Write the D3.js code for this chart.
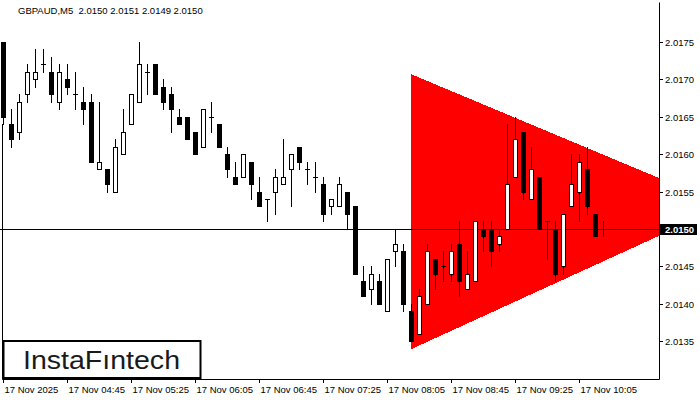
<!DOCTYPE html>
<html>
<head>
<meta charset="utf-8">
<script src="https://cdn.jsdelivr.net/npm/d3@7"></script>
<style>
  html, body { margin: 0; padding: 0; background: #fff; }
  svg { display: block; }
  text { font-family: "Liberation Sans", Arial, sans-serif; }
</style>
</head>
<body>
<script>
// GBPAUD M5 bars (one per 5 minutes)
const opens = [
  2.0175, 2.0164, 2.0163, 2.0168, 2.0170, 2.0172, 2.0171, 2.0167, 2.0170, 2.0168,
  2.0167, 2.0167, 2.0158, 2.0158, 2.0155, 2.0160, 2.0164, 2.0167, 2.0171, 2.0172,
  2.0169, 2.0168, 2.0165, 2.0165, 2.0163, 2.0161, 2.0165, 2.0164, 2.0160, 2.0157,
  2.0157, 2.0159, 2.0155, 2.0154, 2.0155, 2.0156, 2.0158, 2.0161, 2.0158, 2.0157,
  2.0156, 2.0153, 2.0153, 2.0155, 2.0153, 2.0143, 2.0142, 2.0143, 2.0139, 2.0147,
  2.0147, 2.0139, 2.0136, 2.0140, 2.0146, 2.0145, 2.0144, 2.0148, 2.0142, 2.0143,
  2.0150, 2.0150, 2.0148, 2.0150, 2.0157, 2.0163, 2.0154, 2.0157, 2.0151, 2.0150,
  2.0145, 2.0153, 2.0155, 2.0158, 2.0152, 2.0150
];
const highs = [
  2.0175, 2.0166, 2.0168, 2.0172, 2.0174, 2.0174, 2.0173, 2.0172, 2.0172, 2.0171,
  2.0169, 2.0168, 2.0167, 2.0158, 2.0162, 2.0166, 2.0168, 2.0175, 2.0172, 2.0172,
  2.0170, 2.0169, 2.0166, 2.0165, 2.0163, 2.0166, 2.0167, 2.0164, 2.0161, 2.0159,
  2.0160, 2.0159, 2.0157, 2.0154, 2.0158, 2.0162, 2.0160, 2.0161, 2.0159, 2.0159,
  2.0157, 2.0154, 2.0157, 2.0155, 2.0153, 2.0145, 2.0145, 2.0144, 2.0146, 2.0150,
  2.0148, 2.0140, 2.0142, 2.0148, 2.0146, 2.0147, 2.0148, 2.0151, 2.0147, 2.0151,
  2.0151, 2.0151, 2.0150, 2.0164, 2.0165, 2.0163, 2.0161, 2.0157, 2.0151, 2.0151,
  2.0152, 2.0160, 2.0160, 2.0161, 2.0152, 2.0151
];
const lows = [
  2.0164, 2.0161, 2.0162, 2.0167, 2.0169, 2.0171, 2.0167, 2.0166, 2.0168, 2.0166,
  2.0164, 2.0159, 2.0158, 2.0155, 2.0155, 2.0160, 2.0164, 2.0167, 2.0168, 2.0168,
  2.0166, 2.0163, 2.0164, 2.0162, 2.0160, 2.0161, 2.0163, 2.0161, 2.0157, 2.0156,
  2.0157, 2.0154, 2.0153, 2.0151, 2.0152, 2.0156, 2.0153, 2.0158, 2.0156, 2.0155,
  2.0151, 2.0152, 2.0153, 2.0150, 2.0144, 2.0141, 2.0140, 2.0140, 2.0139, 2.0145,
  2.0139, 2.0135, 2.0136, 2.0140, 2.0142, 2.0143, 2.0143, 2.0141, 2.0142, 2.0143,
  2.0147, 2.0145, 2.0147, 2.0150, 2.0157, 2.0154, 2.0154, 2.0150, 2.0146, 2.0143,
  2.0144, 2.0153, 2.0151, 2.0152, 2.0149, 2.0149
];
const closes = [
  2.0165, 2.0162, 2.0167, 2.0171, 2.0171, 2.0172, 2.0168, 2.0171, 2.0169, 2.0168,
  2.0166, 2.0159, 2.0159, 2.0156, 2.0161, 2.0163, 2.0168, 2.0172, 2.0171, 2.0168,
  2.0167, 2.0166, 2.0164, 2.0162, 2.0160, 2.0166, 2.0165, 2.0161, 2.0158, 2.0156,
  2.0160, 2.0156, 2.0153, 2.0154, 2.0157, 2.0157, 2.0160, 2.0159, 2.0158, 2.0157,
  2.0152, 2.0154, 2.0156, 2.0152, 2.0144, 2.0141, 2.0144, 2.0140, 2.0146, 2.0148,
  2.0140, 2.0135, 2.0141, 2.0147, 2.0144, 2.0145, 2.0147, 2.0143, 2.0144, 2.0151,
  2.0149, 2.0147, 2.0149, 2.0156, 2.0162, 2.0155, 2.0158, 2.0150, 2.0151, 2.0144,
  2.0152, 2.0156, 2.0159, 2.0153, 2.0149, 2.0150
];

// axis labels
const timeLabels = [
  "17 Nov 2025", "17 Nov 04:45", "17 Nov 05:25", "17 Nov 06:05", "17 Nov 06:45",
  "17 Nov 07:25", "17 Nov 08:05", "17 Nov 08:45", "17 Nov 09:25", "17 Nov 10:05"
];
const timeTickBars = [0, 8, 16, 24, 32, 40, 48, 56, 64, 72];
const priceTicks = [2.0135, 2.0140, 2.0145, 2.0150, 2.0155, 2.0160, 2.0165, 2.0170, 2.0175];

// symmetrical triangle pattern: bar index / price
const triangleBars = [51, 90.25, 51];
const trianglePrices = [2.01707, 2.01531, 2.01339];

const symbol = "GBPAUD,M5";
const bidPrice = 2.0150;

const width = 700;
const height = 400;
const plot = { left: 2, top: 2, right: 659, bottom: 379 };

const xScale = d3.scaleLinear().domain([0, 82]).range([3, 659]);
const yScale = d3.scaleLinear().domain([2.0135, 2.0175]).range([341, 42]);
const py = (v) => Math.round(yScale(v));
const fmt = d3.format(".4f");

const svg = d3
  .create("svg")
  .attr("width", width)
  .attr("height", height)
  .attr("viewBox", [0, 0, width, height]);

svg.append("rect").attr("width", width).attr("height", height).attr("fill", "#fff");

svg
  .append("clipPath")
  .attr("id", "plotclip")
  .append("rect")
  .attr("x", 0)
  .attr("y", plot.top)
  .attr("width", plot.right)
  .attr("height", plot.bottom - plot.top);

// red triangle in the background
const tri = d3.range(triangleBars.length).map((i) => [
  xScale(triangleBars[i]),
  yScale(trianglePrices[i]),
]);
svg
  .append("path")
  .attr("clip-path", "url(#plotclip)")
  .attr("shape-rendering", "crispEdges")
  .attr("d", d3.line()(tri) + "Z")
  .attr("fill", "#ff0000");

// bid line
const bidY = py(bidPrice) + 0.5;
svg
  .append("line")
  .attr("x1", 0)
  .attr("x2", plot.right)
  .attr("y1", bidY)
  .attr("y2", bidY)
  .attr("stroke", "#000")
  .attr("stroke-width", 1);

// candles
const I = d3.range(opens.length);
const candles = svg
  .append("g")
  .attr("shape-rendering", "crispEdges")
  .attr("clip-path", "url(#plotclip)");

const bar = candles
  .selectAll("g")
  .data(I)
  .join("g")
  .attr("transform", (i) => `translate(${Math.round(xScale(i))},0)`);

bar
  .append("line")
  .attr("x1", 0.5)
  .attr("x2", 0.5)
  .attr("y1", (i) => py(highs[i]))
  .attr("y2", (i) => py(lows[i]) + 1)
  .attr("stroke", "#000");

bar
  .filter((i) => opens[i] !== closes[i])
  .append("rect")
  .attr("x", -1.5)
  .attr("width", 4)
  .attr("y", (i) => Math.min(py(opens[i]), py(closes[i])) + 0.5)
  .attr("height", (i) => Math.abs(py(opens[i]) - py(closes[i])))
  .attr("fill", (i) => (closes[i] > opens[i] ? "#fff" : "#000"))
  .attr("stroke", "#000");

bar
  .filter((i) => opens[i] === closes[i])
  .append("line")
  .attr("x1", -2)
  .attr("x2", 3)
  .attr("y1", (i) => py(closes[i]) + 0.5)
  .attr("y2", (i) => py(closes[i]) + 0.5)
  .attr("stroke", "#000");

// frame
svg
  .append("path")
  .attr("d", `M2.5,${py(lows[0])}V${plot.bottom + 0.5}H${plot.right + 0.5}V${plot.top + 0.5}`)
  .attr("fill", "none")
  .attr("stroke", "#000");

// right price axis
const yAxis = svg.append("g").attr("font-size", "9.5px");
priceTicks.forEach((v) => {
  const y = py(v) + 0.5;
  yAxis
    .append("line")
    .attr("x1", plot.right + 1)
    .attr("x2", plot.right + 4)
    .attr("y1", y)
    .attr("y2", y)
    .attr("stroke", "#000");
  if (v !== bidPrice) {
    yAxis
      .append("text")
      .attr("x", 665)
      .attr("y", y + 3.5)
      .attr("fill", "#000")
      .text(fmt(v));
  }
});

// bid price tag
yAxis
  .append("rect")
  .attr("x", 660)
  .attr("y", bidY - 5.5)
  .attr("width", 37)
  .attr("height", 11)
  .attr("fill", "#000");
yAxis
  .append("text")
  .attr("x", 665)
  .attr("y", bidY + 3.5)
  .attr("fill", "#fff")
  .attr("font-weight", "bold")
  .text(fmt(bidPrice));

// bottom time axis
const xAxis = svg.append("g").attr("font-size", "9.5px");
timeTickBars.forEach((b, k) => {
  const x = Math.round(xScale(b)) + 0.5;
  xAxis
    .append("line")
    .attr("x1", x)
    .attr("x2", x)
    .attr("y1", plot.bottom)
    .attr("y2", plot.bottom + 4)
    .attr("stroke", "#000");
  xAxis
    .append("text")
    .attr("x", x + 1)
    .attr("y", 393)
    .attr("fill", "#000")
    .text(timeLabels[k]);
});

// title
const last = opens.length - 1;
svg
  .append("text")
  .attr("x", 18)
  .attr("y", 13.5)
  .attr("font-size", "9.5px")
  .attr("fill", "#000")
  .attr("xml:space", "preserve")
  .text(`${symbol}  ${fmt(opens[last])} ${fmt(highs[last])} ${fmt(lows[last])} ${fmt(closes[last])}`);

// logo box
svg
  .append("rect")
  .attr("x", 3.5)
  .attr("y", 341)
  .attr("width", 197)
  .attr("height", 37)
  .attr("fill", "#fff")
  .attr("stroke", "#000")
  .attr("stroke-width", 2);
svg
  .append("text")
  .attr("x", 23)
  .attr("y", 368.5)
  .attr("font-family", "Lato, 'Open Sans', sans-serif")
  .attr("font-size", "26px")
  .attr("font-weight", 500)
  .attr("fill", "#1a1a1a")
  .attr("textLength", 157)
  .attr("lengthAdjust", "spacingAndGlyphs")
  .text("InstaFıntech");

document.body.appendChild(svg.node());
</script>
</body>
</html>
